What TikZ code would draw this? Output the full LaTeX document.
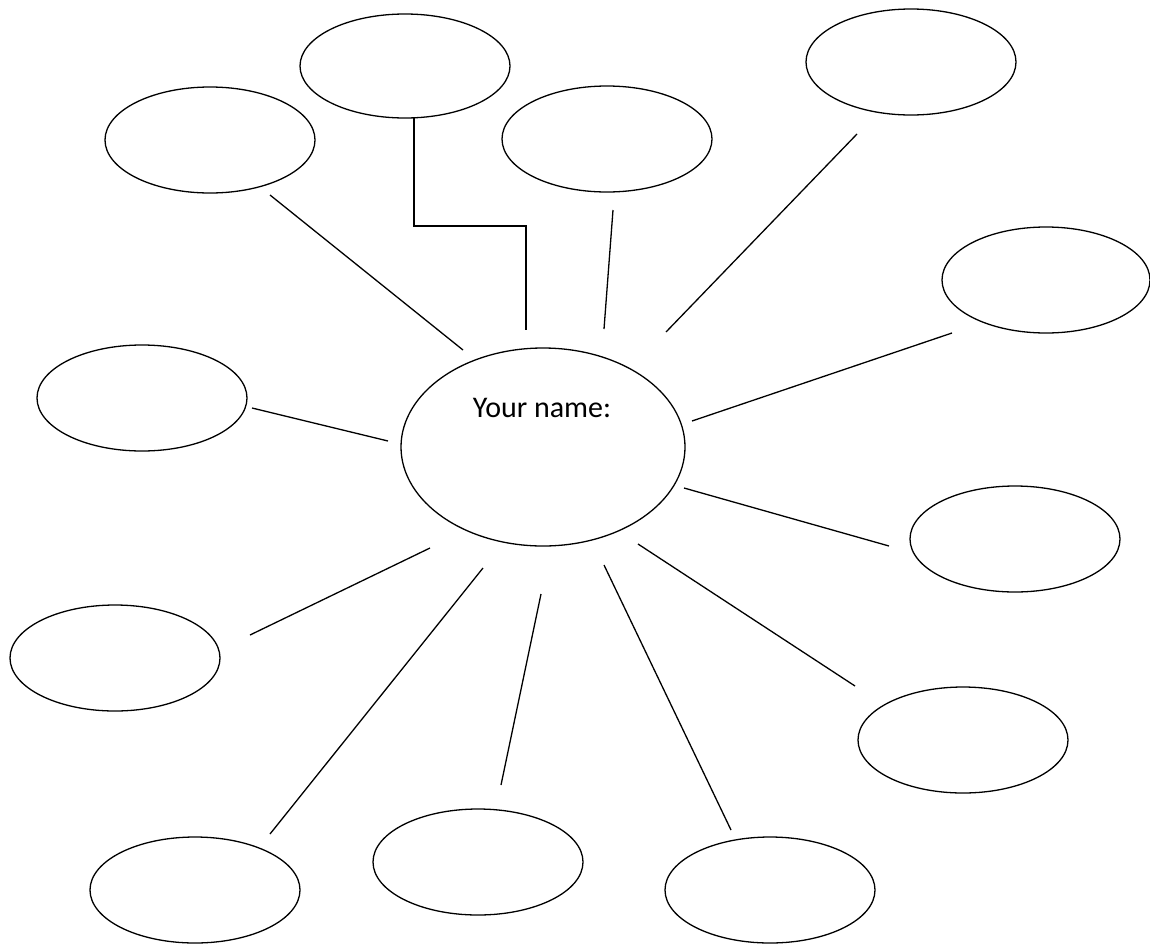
\documentclass[tikz,border=0pt]{standalone}
\usepackage{fontspec}
\setmainfont{Carlito}
\begin{document}
\begin{tikzpicture}[x=1pt,y=-1pt,
  link/.style={line width=1.3pt}]
\useasboundingbox (0,0) rectangle (1150,945);
\draw[link] (543,447) ellipse [x radius=142,y radius=99];
\node[font=\fontsize{30}{32}\selectfont,anchor=base] (name) at (542,417) {Your name:};
\draw[link] (405,66) ellipse [x radius=105,y radius=52];
\draw[link] (210,140) ellipse [x radius=105,y radius=53];
\draw[link] (607,139) ellipse [x radius=105,y radius=53];
\draw[link] (911,62) ellipse [x radius=105,y radius=53];
\draw[link] (1046,280) ellipse [x radius=104,y radius=53];
\draw[link] (142,398) ellipse [x radius=105,y radius=53];
\draw[link] (1015,539) ellipse [x radius=105,y radius=53];
\draw[link] (115,658) ellipse [x radius=105,y radius=53];
\draw[link] (963,740) ellipse [x radius=105,y radius=53];
\draw[link] (195,890) ellipse [x radius=105,y radius=53];
\draw[link] (478,862) ellipse [x radius=105,y radius=53];
\draw[link] (770,890) ellipse [x radius=105,y radius=53];
% connectors
\coordinate (a1) at (270,195); \coordinate (b1) at (463,350);
\coordinate (a2) at (414,118); \coordinate (b2) at (526,330);
\coordinate (a3) at (613,210); \coordinate (b3) at (604,329);
\coordinate (a4) at (857,134); \coordinate (b4) at (666,332);
\coordinate (a5) at (952,333); \coordinate (b5) at (692,421);
\coordinate (a6) at (252,408); \coordinate (b6) at (388,441);
\coordinate (a7) at (889,546); \coordinate (b7) at (684,488);
\coordinate (a8) at (250,635); \coordinate (b8) at (430,548);
\coordinate (a9) at (270,834); \coordinate (b9) at (483,568);
\coordinate (a10) at (501,785); \coordinate (b10) at (541,594);
\coordinate (a11) at (731,830); \coordinate (b11) at (604,565);
\coordinate (a12) at (855,686); \coordinate (b12) at (638,544);
\draw[link] (a1) -- (b1);
\draw[link] (a2) -- (414,226) -- (526,226) -- (b2);
\draw[link] (a3) -- (b3);
\draw[link] (a4) -- (b4);
\draw[link] (a5) -- (b5);
\draw[link] (a6) -- (b6);
\draw[link] (a7) -- (b7);
\draw[link] (a8) -- (b8);
\draw[link] (a9) -- (b9);
\draw[link] (a10) -- (b10);
\draw[link] (a11) -- (b11);
\draw[link] (a12) -- (b12);
\end{tikzpicture}
\end{document}
